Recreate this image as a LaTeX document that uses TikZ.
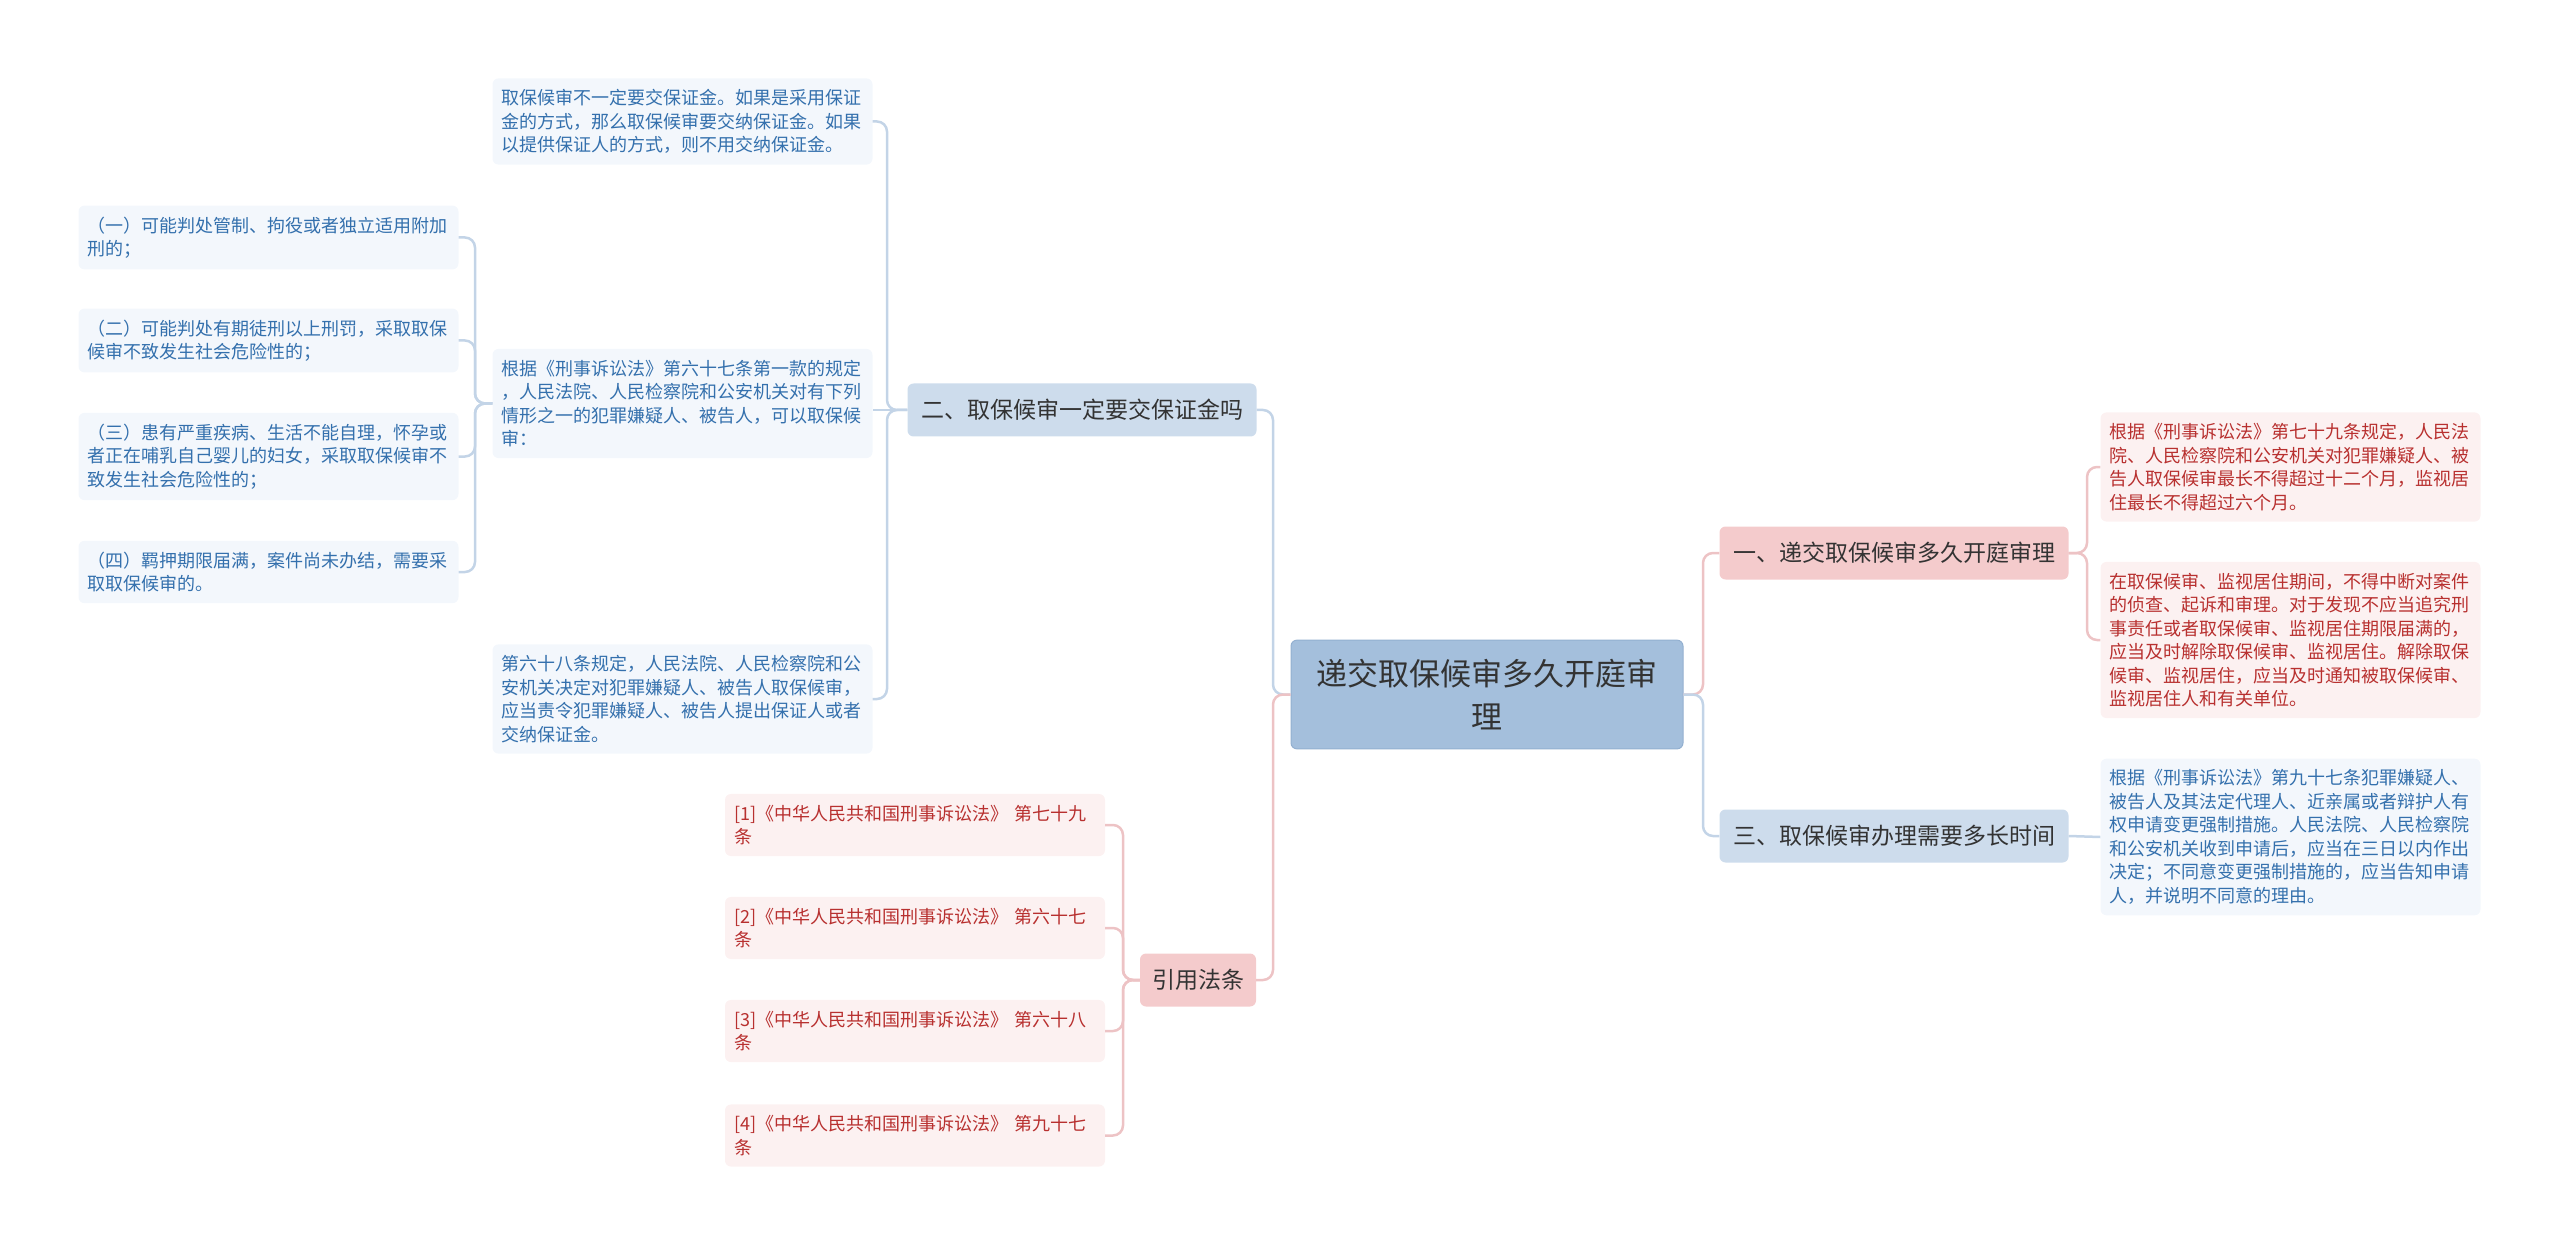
\documentclass[tikz,border=0pt]{standalone}
\usepackage{fontspec}
\setmainfont{Noto Sans CJK SC}

\definecolor{rootfill}{HTML}{A4BFDC}
\definecolor{rootline}{HTML}{93B0D0}
\definecolor{bluefill}{HTML}{CDDCEC}
\definecolor{pinkfill}{HTML}{F4CBCC}
\definecolor{leafblue}{HTML}{F3F7FC}
\definecolor{leafpink}{HTML}{FCF1F1}
\definecolor{txtblue}{HTML}{3470AD}
\definecolor{txtred}{HTML}{B8302F}
\definecolor{txtdark}{HTML}{333333}
\definecolor{lineblue}{HTML}{C3D4E7}
\definecolor{linepink}{HTML}{EDC3C5}

\tikzset{
  rootbox/.style={fill=rootfill, draw=rootline, line width=1pt, rounded corners=6pt, text=txtdark,
    font=\fontsize{31}{43}\selectfont, align=center, text width=350pt, inner xsep=21pt, inner ysep=19pt},
  branchb/.style={fill=bluefill, rounded corners=6pt, text=txtdark, font=\fontsize{23}{28}\selectfont,
    minimum height=53pt, inner xsep=12pt},
  branchr/.style={branchb, fill=pinkfill},
  leafb/.style={fill=leafblue, rounded corners=6pt, text=txtblue, font=\fontsize{18}{23.5}\selectfont,
    align=left, text width=362pt, inner xsep=9pt, inner ysep=11pt},
  leafr/.style={leafb, fill=leafpink, text=txtred},
  bline/.style={draw=lineblue, line width=2.5pt, rounded corners=10pt},
  rline/.style={bline, draw=linepink}
}

\begin{document}
\begin{tikzpicture}[x=1pt,y=-1pt]
\useasboundingbox (0,0) rectangle (2560,1246);

\node[rootbox] (root) at (1487,694.5) {递交取保候审多久开庭审\\理};

\node[branchb, minimum width=349pt] (two) at (1082,410) {二、取保候审一定要交保证金吗};
\node[branchr, minimum width=116pt] (cite) at (1198,980) {引用法条};
\node[branchr, minimum width=349pt] (one) at (1894,553) {一、递交取保候审多久开庭审理};
\node[branchb, minimum width=349pt] (three) at (1894,836) {三、取保候审办理需要多长时间};

\node[leafb] (l1) at (682.5,121.5) {取保候审不一定要交保证金。如果是采用保证\\金的方式，那么取保候审要交纳保证金。如果\\以提供保证人的方式，则不用交纳保证金。};
\node[leafb] (l2) at (682.5,403.5) {根据《刑事诉讼法》第六十七条第一款的规定\\，人民法院、人民检察院和公安机关对有下列\\情形之一的犯罪嫌疑人、被告人，可以取保候\\审：};
\node[leafb] (l3) at (682.5,699) {第六十八条规定，人民法院、人民检察院和公\\安机关决定对犯罪嫌疑人、被告人取保候审，\\应当责令犯罪嫌疑人、被告人提出保证人或者\\交纳保证金。};

\node[leafb] (c1) at (268.5,237.5) {（一）可能判处管制、拘役或者独立适用附加\\刑的；};
\node[leafb] (c2) at (268.5,340.5) {（二）可能判处有期徒刑以上刑罚，采取取保\\候审不致发生社会危险性的；};
\node[leafb] (c3) at (268.5,456.5) {（三）患有严重疾病、生活不能自理，怀孕或\\者正在哺乳自己婴儿的妇女，采取取保候审不\\致发生社会危险性的；};
\node[leafb] (c4) at (268.5,572) {（四）羁押期限届满，案件尚未办结，需要采\\取取保候审的。};

\node[leafr] (law1) at (915,825) {[1]《中华人民共和国刑事诉讼法》 第七十九\\条};
\node[leafr] (law2) at (915,928) {[2]《中华人民共和国刑事诉讼法》 第六十七\\条};
\node[leafr] (law3) at (915,1031) {[3]《中华人民共和国刑事诉讼法》 第六十八\\条};
\node[leafr] (law4) at (915,1135.5) {[4]《中华人民共和国刑事诉讼法》 第九十七\\条};

\node[leafr] (r1) at (2290.5,467) {根据《刑事诉讼法》第七十九条规定，人民法\\院、人民检察院和公安机关对犯罪嫌疑人、被\\告人取保候审最长不得超过十二个月，监视居\\住最长不得超过六个月。};
\node[leafr] (r2) at (2290.5,640) {在取保候审、监视居住期间，不得中断对案件\\的侦查、起诉和审理。对于发现不应当追究刑\\事责任或者取保候审、监视居住期限届满的，\\应当及时解除取保候审、监视居住。解除取保\\候审、监视居住，应当及时通知被取保候审、\\监视居住人和有关单位。};
\node[leafb] (r3) at (2290.5,837) {根据《刑事诉讼法》第九十七条犯罪嫌疑人、\\被告人及其法定代理人、近亲属或者辩护人有\\权申请变更强制措施。人民法院、人民检察院\\和公安机关收到申请后，应当在三日以内作出\\决定；不同意变更强制措施的，应当告知申请\\人，并说明不同意的理由。};

\coordinate (busroot) at (1273,694.5);
\coordinate (busright) at (1703,694.5);
\coordinate (bustwo) at (887,410);
\coordinate (busl2) at (475,403.5);
\coordinate (buscite) at (1123,980);
\coordinate (busone) at (2087,553);

\draw[bline] (root.west) -- (busroot) |- (two.east);
\draw[rline] (root.west) -- (busroot) |- (cite.east);
\draw[rline] (root.east) -- (busright) |- (one.west);
\draw[bline] (root.east) -- (busright) |- (three.west);

\draw[bline] (two.west) -- (bustwo) |- (l1.east);
\draw[bline] (two.west) -- (l2.east |- two.west);
\draw[bline] (two.west) -- (bustwo) |- (l3.east);

\draw[bline] (l2.west) -- (busl2) |- (c1.east);
\draw[bline] (l2.west) -- (busl2) |- (c2.east);
\draw[bline] (l2.west) -- (busl2) |- (c3.east);
\draw[bline] (l2.west) -- (busl2) |- (c4.east);

\draw[rline] (cite.west) -- (buscite) |- (law1.east);
\draw[rline] (cite.west) -- (buscite) |- (law2.east);
\draw[rline] (cite.west) -- (buscite) |- (law3.east);
\draw[rline] (cite.west) -- (buscite) |- (law4.east);

\draw[rline] (one.east) -- (busone) |- (r1.west);
\draw[rline] (one.east) -- (busone) |- (r2.west);
\draw[bline] (three.east) -- (r3.west);
\end{tikzpicture}
\end{document}
